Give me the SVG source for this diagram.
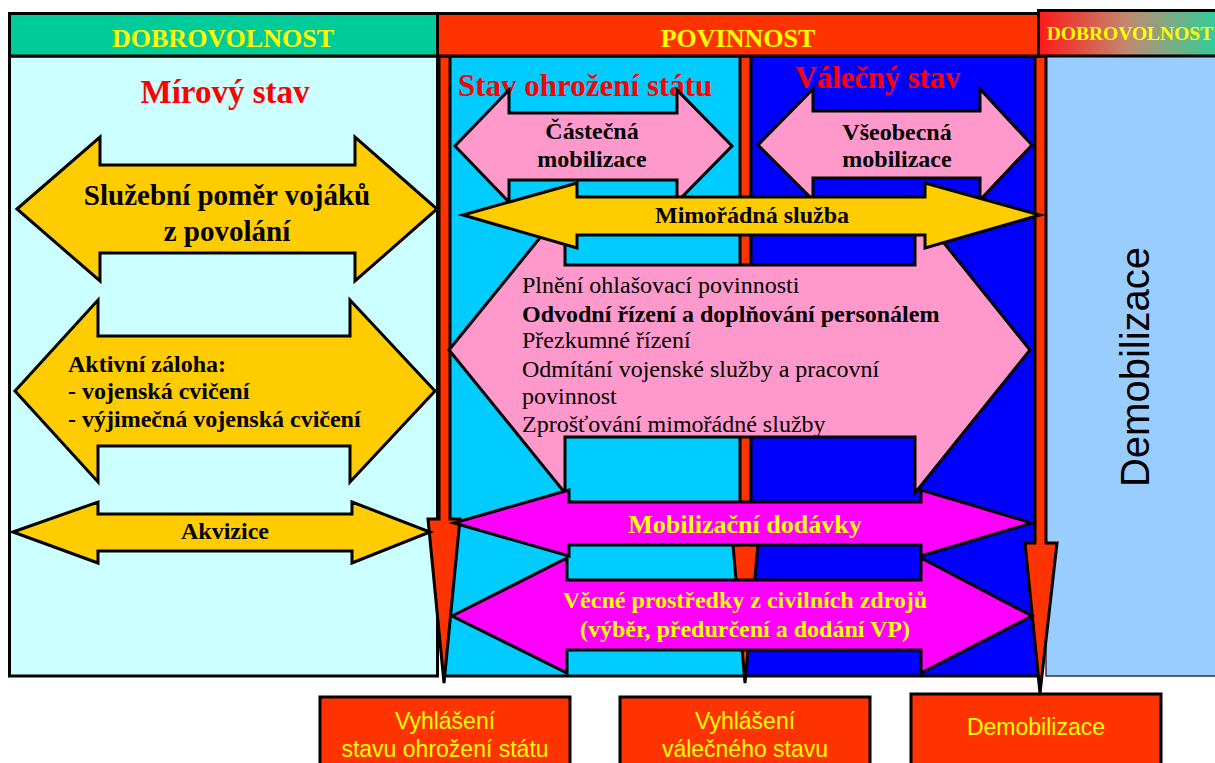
<svg xmlns="http://www.w3.org/2000/svg" width="1215" height="763" viewBox="0 0 1215 763">
<defs>
<linearGradient id="grad" x1="1040" y1="0" x2="1215" y2="0" gradientUnits="userSpaceOnUse">
<stop offset="0" stop-color="#FF1A1A"/>
<stop offset="0.5" stop-color="#C08A70"/>
<stop offset="1" stop-color="#33CC99"/>
</linearGradient>
<style>
.bd{stroke:#000;stroke-width:3;stroke-linejoin:miter}
.hdr{font-family:"Liberation Serif","Times New Roman",serif;font-weight:bold;fill:#FFFF00;text-anchor:middle}
.ttl{font-family:"Liberation Serif","Times New Roman",serif;font-weight:bold;fill:#FF0000}
.bt{font-family:"Liberation Serif","Times New Roman",serif;font-weight:bold;fill:#000;font-size:24px}
.bt29{font-family:"Liberation Serif","Times New Roman",serif;font-weight:bold;fill:#000;font-size:29px;text-anchor:middle}
.rt{font-family:"Liberation Serif","Times New Roman",serif;fill:#000;font-size:24px}
.yt{font-family:"Liberation Serif","Times New Roman",serif;font-weight:bold;fill:#FFFF00;text-anchor:middle}
.st{font-family:"Liberation Sans",Arial,sans-serif;fill:#FFFF00;font-size:23px;text-anchor:middle}
.mid{text-anchor:middle}
.yel{fill:#FFCC00}
.pink{fill:#FF99CC}
.mag{fill:#FF00FF}
.red{fill:#FF3300}
</style>
</defs>
<g id="panels">
<rect x="9.5" y="56" width="428" height="620" fill="#CCFFFF" class="bd"/>
<rect x="444" y="56" width="301" height="620" fill="#00CCFF" class="bd"/>
<rect x="745" y="56" width="295" height="620" fill="#0000FF" class="bd"/>
<rect x="1046" y="56" width="175" height="620" fill="#99CCFF" stroke="#333" stroke-width="1.5"/>
<text class="ttl mid" x="225" y="103" font-size="33">Mírový stav</text>
<text class="ttl" x="458" y="96" font-size="31">Stav ohrožení státu</text>
<text class="ttl" x="795" y="88" font-size="30.5">Válečný stav</text>
<text x="1149" y="367" transform="rotate(-90 1149 367)" font-family="Liberation Sans, Arial, sans-serif" font-size="40" text-anchor="middle" fill="#000">Demobilizace</text>
</g>
<g id="connectors">
<polygon class="red bd" points="439,56 450,56 450,519 460,519 444,683 428,519 439,519"/>
<polygon class="red bd" points="740,56 751,56 751,545 758,545 745,683 733,545 740,545"/>
<polygon class="red bd" points="1035,56 1046,56 1046,543 1057,543 1040,693 1025,543 1035,543"/>
</g>
<g id="sluzebni">
<polygon class="yel bd" points="17,209 100,137 100,165 355,165 355,137 437,209 355,281 355,253 100,253 100,281"/>
<text class="bt29" x="227" y="205">Služební poměr vojáků</text>
<text class="bt29" x="227" y="241">z povolání</text>
</g>
<g id="aktivni">
<polygon class="yel bd" points="15,391 98,300 98,336 350,336 350,300 435,391 350,482 350,446 98,446 98,482"/>
<text class="bt" x="68" y="372">Aktivní záloha:</text>
<text class="bt" x="68" y="399">- vojenská cvičení</text>
<text class="bt" x="68" y="427">- výjimečná vojenská cvičení</text>
</g>
<g id="akvizice">
<polygon class="yel bd" points="13,532 98,502 98,514 352,514 352,502 430,532 352,563 352,551 98,551 98,563"/>
<text class="bt mid" x="225" y="539">Akvizice</text>
</g>
<g id="povinnosti">
<polygon class="pink bd" points="449,350 565,207 565,265 915,265 915,207 1030,350 915,493 915,437 565,437 565,493"/>
<text class="rt" x="522" y="293">Plnění ohlašovací povinnosti</text>
<text class="bt" x="522" y="322">Odvodní řízení a doplňování personálem</text>
<text class="rt" x="522" y="348">Přezkumné řízení</text>
<text class="rt" x="522" y="377">Odmítání vojenské služby a pracovní</text>
<text class="rt" x="522" y="404">povinnost</text>
<text class="rt" x="522" y="432">Zprošťování mimořádné služby</text>
</g>
<g id="castecna">
<polygon class="pink bd" points="455,146 509,90 509,113 677,113 677,90 732,146 677,202 677,180 509,180 509,202"/>
<text class="bt mid" x="592" y="139">Částečná</text>
<text class="bt mid" x="592" y="167">mobilizace</text>
</g>
<g id="vseobecna">
<polygon class="pink bd" points="758,145 813,89 813,111 980,111 980,89 1032,145 980,200 980,178 813,178 813,200"/>
<text class="bt mid" x="897" y="140">Všeobecná</text>
<text class="bt mid" x="897" y="167">mobilizace</text>
</g>
<g id="mimoradna">
<polygon class="yel bd" points="463,215 577,183 577,197 925,197 925,183 1040,215 925,248 925,235 577,235 577,248"/>
<text class="bt mid" x="752" y="223">Mimořádná služba</text>
</g>
<g id="dodavky">
<polygon class="mag bd" points="454,523 569,490 569,502 921,502 921,490 1032,523 921,556 921,545 569,545 569,556"/>
<text class="yt" x="745" y="533" font-size="26">Mobilizační dodávky</text>
</g>
<g id="vecne">
<polygon class="mag bd" points="452,616 567,558 567,580 921,580 921,558 1032,616 921,673 921,650 567,650 567,673"/>
<text class="yt" x="745" y="608" font-size="24">Věcné prostředky z civilních zdrojů</text>
<text class="yt" x="745" y="637" font-size="24">(výběr, předurčení a dodání VP)</text>
</g>
<g id="headers">
<rect x="9.5" y="13.5" width="428" height="42.5" fill="#00CC99" class="bd"/>
<text class="hdr" x="223" y="47" font-size="26">DOBROVOLNOST</text>
<rect x="437.5" y="13.5" width="601" height="42.5" fill="#FF3300" class="bd"/>
<text class="hdr" x="738" y="47" font-size="26">POVINNOST</text>
<rect x="1038.5" y="10.5" width="180" height="45.5" fill="url(#grad)" class="bd"/>
<text class="hdr" x="1130" y="40" font-size="19.5">DOBROVOLNOST</text>
</g>
<g id="box1">
<rect x="320" y="697" width="250" height="70" class="red bd"/>
<text class="st" x="445" y="729">Vyhlášení</text>
<text class="st" x="445" y="757">stavu ohrožení státu</text>
</g>
<g id="box2">
<rect x="620" y="697" width="250" height="70" class="red bd"/>
<text class="st" x="745" y="729">Vyhlášení</text>
<text class="st" x="745" y="757">válečného stavu</text>
</g>
<g id="box3">
<rect x="911" y="694" width="250" height="72" class="red bd"/>
<text class="st" x="1036" y="735">Demobilizace</text>
</g>
</svg>
